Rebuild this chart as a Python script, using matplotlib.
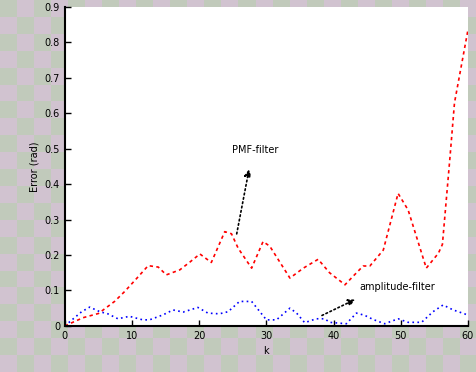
import matplotlib
matplotlib.use("Agg")
import matplotlib.pyplot as plt
import numpy as np

# readings
x_pmf = [0, 2.7, 5.0, 7.4, 8.9, 10.5, 12.4, 13.9, 15.1, 17.1, 18.6, 20.1, 21.8, 23.8, 24.8,
         25.8, 27.8, 29.5, 30.5, 33.5, 35.5, 37.7, 39.4, 41.7, 42.9, 44.4, 45.4, 47.4,
         49.6, 51.1, 53.8, 55.6, 56.2, 57.3, 58.0, 60]
y_pmf = [0, 0.023, 0.035, 0.069, 0.097, 0.130, 0.170, 0.166, 0.144, 0.158, 0.180, 0.203, 0.179,
         0.266, 0.260, 0.219, 0.163, 0.238, 0.225, 0.135, 0.163, 0.188, 0.150, 0.116,
         0.140, 0.169, 0.169, 0.214, 0.374, 0.327, 0.163, 0.205, 0.230, 0.470, 0.630, 0.835]

x_amp = [0, 2.5, 3.7, 5.2, 6.4, 7.9, 9.6, 11.6, 12.6, 14.6, 16.1, 17.6, 19.8, 21.3, 23.0,
         24.3, 26.0, 27.8, 30.0, 31.5, 33.5, 34.5, 35.7, 37.4, 38.7, 39.4, 41.9, 43.4,
         44.6, 45.9, 47.6, 49.6, 51.1, 53.1, 54.8, 56.3, 57.8, 59.5, 60]
y_amp = [0, 0.040, 0.053, 0.040, 0.034, 0.020, 0.027, 0.017, 0.017, 0.031, 0.045, 0.039,
         0.052, 0.036, 0.034, 0.040, 0.069, 0.069, 0.017, 0.017, 0.050, 0.036, 0.009,
         0.020, 0.020, 0.010, 0.006, 0.036, 0.030, 0.018, 0.006, 0.020, 0.010, 0.010,
         0.040, 0.059, 0.045, 0.034, 0.030]

fig = plt.figure(figsize=(4.77, 3.72), dpi=100)

# checkerboard backdrop (transparent background look)
bg = fig.add_axes([0, 0, 1, 1])
board = (np.indices((22, 28)).sum(axis=0) % 2)
bg.imshow(board, cmap=matplotlib.colors.ListedColormap(["#c1cabb", "#d1c3d0"]),
          aspect="auto", interpolation="nearest", vmin=0, vmax=1)
bg.axis("off")

ax = fig.add_axes([0.136, 0.124, 0.845, 0.857])
ax.set_facecolor("white")
ax.plot(x_pmf, y_pmf, color="red", linestyle=(0, (2, 2)), linewidth=1.2)
ax.plot(x_amp, y_amp, color="blue", linestyle=(0, (1, 2)), linewidth=1.2)

ax.set_xlim(0, 60)
ax.set_ylim(0, 0.9)
ax.set_xticks(range(0, 61, 10))
ax.set_yticks(np.arange(0, 0.91, 0.1))
ax.set_yticklabels(["0", "0.1", "0.2", "0.3", "0.4", "0.5", "0.6", "0.7", "0.8", "0.9"])
ax.tick_params(direction="in", length=4, labelsize=7, width=1)
ax.spines["top"].set_visible(False)
ax.spines["right"].set_visible(False)
ax.spines["left"].set_linewidth(1.5)
ax.spines["bottom"].set_linewidth(1.5)
ax.set_xlabel("k", fontsize=7)
ax.set_ylabel("Error (rad)", fontsize=7)

ax.annotate("", xy=(27.5, 0.45), xytext=(25.5, 0.252),
            arrowprops=dict(arrowstyle="-|>", color="black", linestyle=":", lw=1.2))
ax.text(24.9, 0.497, "PMF-filter", fontsize=7, va="center")
ax.annotate("", xy=(43.6, 0.078), xytext=(37.9, 0.026),
            arrowprops=dict(arrowstyle="-|>", color="black", linestyle=":", lw=1.2))
ax.text(43.8, 0.111, "amplitude-filter", fontsize=7, va="center")

fig.savefig("out.png", dpi=100)
